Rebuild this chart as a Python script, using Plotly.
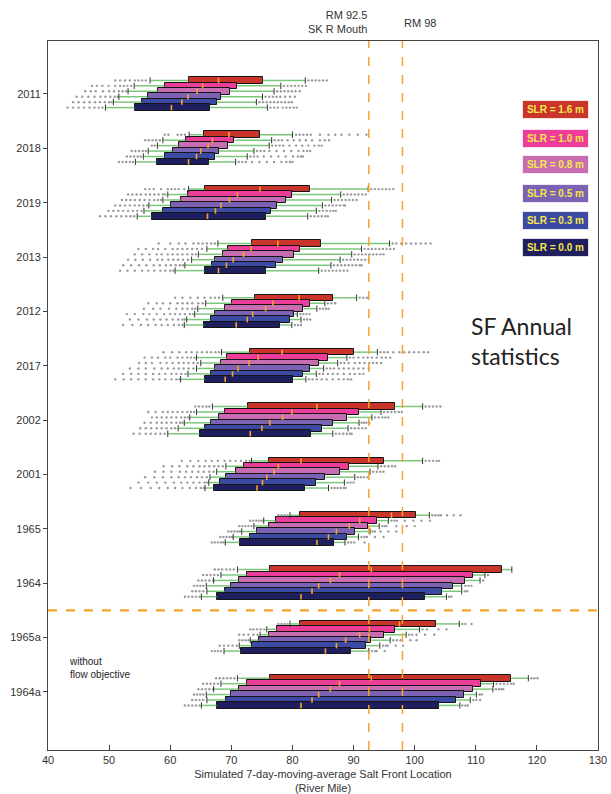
import plotly.graph_objects as go

# ---------------- data ----------------
years = ["2011", "2018", "2019", "2013", "2012", "2017", "2002", "2001",
         "1965", "1964", "1965a", "1964a"]
slr_labels = ["SLR = 1.6 m", "SLR = 1.0 m", "SLR = 0.8 m",
              "SLR = 0.5 m", "SLR = 0.3 m", "SLR = 0.0 m"]
x_ticks = [40, 50, 60, 70, 80, 90, 100, 110, 120, 130]
ref_lines = [92.5, 98]

# rows: SLR 1.6, 1.0, 0.8, 0.5, 0.3, 0.0 ; columns follow `years`
whisker_low = [
    [56.7, 63.1, 63.0, 67.8, 68.6, 68.4, 66.9, 73.3, 79.6, 71.0, 79.6, 71.0],
    [54.1, 58.8, 59.6, 66.0, 65.8, 64.3, 64.3, 69.1, 75.3, 68.3, 75.8, 68.3],
    [53.1, 57.9, 58.8, 64.6, 64.5, 65.0, 63.2, 67.6, 73.7, 67.1, 74.7, 67.1],
    [51.6, 56.4, 56.5, 63.5, 64.0, 64.3, 62.3, 66.5, 71.7, 65.9, 73.1, 65.9],
    [50.7, 55.6, 55.7, 62.4, 62.7, 62.9, 61.3, 66.3, 70.3, 66.0, 71.3, 66.0],
    [49.4, 54.3, 54.6, 60.8, 62.3, 61.7, 59.6, 65.7, 69.0, 65.1, 68.8, 65.1],
]
q1 = [
    [63.0, 65.5, 65.7, 73.4, 73.9, 73.1, 72.8, 76.2, 81.2, 76.3, 81.3, 76.3],
    [59.1, 62.6, 62.9, 69.5, 70.1, 69.3, 68.9, 72.0, 77.3, 72.6, 77.5, 72.6],
    [58.0, 61.5, 61.8, 68.7, 68.9, 68.3, 67.9, 70.7, 76.1, 71.3, 76.2, 71.3],
    [56.3, 60.4, 60.1, 67.4, 67.4, 67.4, 66.6, 69.2, 74.2, 69.9, 74.6, 69.9],
    [55.4, 59.1, 58.8, 66.8, 66.6, 66.6, 65.7, 68.1, 73.1, 69.0, 73.3, 69.1],
    [54.2, 57.8, 57.0, 65.7, 65.6, 65.7, 64.8, 67.1, 71.4, 67.7, 71.5, 67.7],
]
median = [
    [67.9, 69.6, 74.7, 77.6, 81.1, 78.3, 84.0, 81.4, 96.2, 92.9, 97.5, 92.9],
    [65.3, 66.9, 71.0, 73.2, 76.8, 74.4, 79.9, 77.7, 91.0, 87.7, 92.6, 87.7],
    [64.4, 66.2, 69.7, 72.0, 75.6, 72.9, 78.4, 77.0, 89.3, 86.2, 91.0, 86.2],
    [62.9, 65.0, 68.3, 70.3, 73.5, 71.1, 76.3, 75.8, 87.2, 84.3, 88.7, 84.3],
    [61.9, 64.3, 67.4, 69.2, 72.6, 70.2, 75.0, 75.1, 85.9, 83.2, 87.2, 83.2],
    [60.2, 63.0, 66.1, 67.9, 70.8, 69.0, 73.1, 74.2, 84.0, 81.4, 85.4, 81.4],
]
q3 = [
    [75.1, 74.7, 82.9, 84.6, 86.6, 90.1, 96.7, 95.0, 100.2, 114.3, 103.5, 115.7],
    [70.9, 70.5, 79.9, 81.2, 82.8, 85.8, 90.9, 89.3, 93.9, 109.5, 96.8, 110.8],
    [69.7, 69.5, 78.9, 80.3, 81.8, 84.3, 89.0, 87.8, 92.4, 108.2, 95.0, 109.5],
    [68.3, 68.0, 77.5, 78.4, 80.3, 82.9, 86.6, 85.4, 90.2, 106.2, 92.9, 108.1],
    [67.6, 67.4, 76.5, 77.3, 79.6, 81.7, 84.9, 83.9, 88.9, 104.4, 92.0, 106.8],
    [66.5, 66.3, 75.6, 75.6, 78.0, 80.1, 83.0, 82.1, 86.8, 101.7, 89.5, 103.9],
]
whisker_high = [
    [82.1, 80.0, 92.4, 95.9, 90.5, 93.9, 101.3, 101.3, 102.4, 115.9, 107.3, 118.6],
    [78.1, 76.6, 87.9, 91.3, 85.3, 88.9, 94.5, 94.0, 95.7, 111.5, 100.8, 112.9],
    [77.0, 76.2, 86.4, 89.7, 84.0, 87.4, 93.0, 92.7, 94.2, 110.7, 98.6, 112.8],
    [75.1, 73.7, 84.9, 87.8, 80.8, 85.1, 90.9, 90.2, 92.7, 107.7, 96.0, 110.1],
    [74.1, 72.6, 83.9, 86.3, 81.4, 83.9, 89.1, 88.5, 90.8, 107.7, 94.3, 109.1],
    [75.9, 70.7, 82.5, 84.3, 79.9, 82.2, 86.6, 85.9, 88.6, 105.2, 92.5, 107.4],
]

# outliers: [SLR][year] -> list of values
outliers_slr16 = [
    [51.0, 51.8, 52.6, 53.4, 54.2, 54.8, 55.4, 56.0, 82.6, 83.2, 83.8, 84.4, 85.0, 85.6],
    [59.1, 59.7, 61.2, 61.8, 62.4, 80.6, 81.2, 81.8, 82.4, 83.0, 84.5, 85.9, 87.0, 88.0, 89.3, 90.7, 92.1],
    [55.9, 56.6, 57.3, 58.5, 59.6, 60.2, 60.8, 61.4, 62.3, 92.9, 93.5, 94.1, 94.7, 95.3, 95.9, 96.5],
    [58.1, 60.0, 61.4, 62.5, 63.8, 64.6, 65.3, 66.0, 66.7, 67.3, 96.4, 97.0, 97.8, 98.6, 99.4, 100.2, 101.0, 101.8, 102.6],
    [60.8, 62.0, 63.3, 64.5, 65.6, 66.6, 67.3, 68.0, 91.0, 91.6, 92.2],
    [58.9, 60.3, 61.5, 62.6, 63.5, 64.4, 65.2, 66.0, 66.7, 67.4, 68.0, 94.4, 95.0, 95.6, 96.5, 97.5, 98.3, 99.1, 99.9, 100.7, 101.5, 102.2],
    [64.1, 64.7, 65.3, 65.9, 66.4, 101.8, 102.4, 103.0, 103.6, 104.2],
    [61.9, 63.3, 64.6, 65.8, 66.8, 67.8, 68.9, 69.8, 70.7, 71.6, 72.4, 73.0, 101.8, 102.4, 103.0, 103.6, 104.0],
    [77.7, 78.2, 78.7, 79.2, 102.9, 103.4, 103.9, 104.3, 105.3, 106.4, 107.5],
    [67.3, 67.9, 68.5, 69.2, 69.8, 70.4],
    [77.7, 78.2, 78.7, 79.2, 107.8, 108.3, 109.3],
    [67.5, 68.1, 68.7, 69.3, 69.9, 70.5, 119.1, 119.6, 120.1],
]
outliers_slr10 = [
    [47.2, 48.0, 48.9, 49.9, 51.0, 51.8, 52.4, 53.0, 53.6, 78.6, 79.2, 79.8, 80.4, 81.0, 81.6, 82.2],
    [55.9, 56.5, 57.1, 57.7, 58.3, 77.1, 77.7, 78.3, 79.2, 80.2, 81.2, 82.2, 83.2, 84.5, 85.3, 86.0],
    [53.1, 53.8, 54.5, 55.2, 56.0, 56.7, 57.4, 58.1, 58.8, 59.2, 88.4, 89.0, 89.6, 90.2, 90.8, 91.4, 92.0],
    [54.8, 56.0, 57.2, 58.0, 59.2, 60.4, 61.2, 62.0, 62.8, 63.6, 64.4, 65.2, 91.8, 92.4, 93.0, 93.6, 94.2, 94.8, 95.4, 96.0, 96.6],
    [56.4, 57.8, 58.8, 60.0, 61.2, 62.0, 62.8, 63.6, 64.6, 65.3, 85.8, 86.4, 87.0],
    [55.8, 57.0, 58.0, 59.2, 60.0, 61.2, 62.0, 62.8, 63.4, 64.0, 89.4, 90.0, 90.8, 91.6, 92.3, 93.0, 93.8, 94.6, 95.3, 96.0],
    [56.4, 57.6, 58.8, 59.6, 60.4, 61.2, 62.0, 62.8, 63.4, 63.9, 95.0, 95.6, 96.2, 96.8, 97.4, 97.9],
    [58.9, 60.3, 61.5, 62.8, 63.8, 64.8, 65.6, 66.4, 67.2, 67.9, 68.6, 94.5, 95.1, 95.7, 96.3, 96.8],
    [73.1, 73.6, 74.1, 74.6, 75.0, 96.2, 96.7, 97.1, 98.4, 99.8, 101.1, 102.5],
    [65.4, 66.0, 66.6, 67.2, 67.8, 112.0],
    [73.1, 73.6, 74.2, 74.8, 75.4, 101.3, 102.0, 103.9, 105.2],
    [65.4, 66.0, 66.6, 67.2, 67.8, 113.4, 114.0, 114.6, 115.2, 115.8, 116.2],
]
outliers_slr08 = [
    [46.1, 47.0, 47.8, 49.0, 50.0, 50.8, 51.6, 52.2, 52.8, 77.5, 78.1, 78.7, 79.3, 79.9, 80.5, 81.2],
    [57.0, 57.5, 76.7, 77.3, 77.9, 78.5, 79.5, 80.6, 81.6, 82.6, 83.6, 84.3, 84.8],
    [52.1, 52.8, 53.5, 54.2, 55.0, 55.8, 56.6, 57.4, 58.0, 58.5, 86.9, 87.5, 88.1, 88.7, 89.3, 89.9, 90.5],
    [54.2, 55.4, 56.6, 57.8, 58.6, 59.6, 60.4, 61.2, 62.0, 62.8, 63.6, 64.2, 90.2, 90.8, 91.4, 92.0, 92.6, 93.2, 93.8, 94.4, 94.9],
    [55.7, 57.2, 58.4, 59.8, 61.0, 62.0, 62.8, 63.6, 64.1, 84.5, 85.0, 85.5, 85.9],
    [54.9, 56.0, 57.0, 58.4, 59.4, 60.4, 61.4, 62.2, 63.0, 63.8, 64.5, 87.9, 88.5, 89.2, 90.2, 91.0, 91.8, 92.6, 93.2, 93.8, 94.5],
    [57.0, 57.8, 58.6, 59.4, 60.2, 61.0, 61.8, 62.4, 62.9, 93.5, 94.1, 94.7, 95.2, 95.7],
    [57.5, 58.9, 60.2, 61.6, 62.6, 63.6, 64.6, 65.5, 66.4, 67.1, 93.2, 93.8, 94.4, 94.9],
    [71.3, 71.8, 72.3, 72.8, 73.3, 94.7, 95.1, 95.4, 97.0, 98.7, 100.0],
    [64.6, 65.2, 65.8, 66.4, 67.0, 111.2],
    [71.3, 72.0, 72.8, 73.6, 74.3, 99.1, 99.6, 100.3, 101.7, 103.2],
    [64.6, 65.2, 65.8, 66.4, 67.0, 113.3, 113.8, 114.2, 114.5],
]
outliers_slr05 = [
    [44.7, 45.6, 46.6, 47.6, 48.6, 49.4, 50.2, 50.9, 51.4, 75.6, 76.2, 76.8, 77.4, 78.0, 78.8, 79.6, 80.4],
    [53.7, 54.3, 54.9, 55.5, 56.0, 74.2, 74.8, 75.4, 76.2, 77.4, 78.6, 79.8, 81.0, 81.8, 82.4, 82.9],
    [51.0, 51.8, 52.6, 53.4, 54.2, 54.9, 55.6, 56.2, 85.4, 86.0, 86.6, 87.2, 87.8, 88.4, 88.6],
    [53.1, 54.3, 55.5, 56.7, 57.9, 58.7, 59.7, 60.5, 61.3, 62.1, 62.9, 88.3, 88.9, 89.5, 90.1, 90.7, 91.3, 91.9, 92.5],
    [52.9, 54.2, 55.6, 56.6, 57.8, 59.0, 60.0, 60.8, 61.6, 62.4, 63.2, 63.7, 81.3, 81.8, 82.3, 82.8],
    [53.4, 54.8, 56.0, 57.4, 58.6, 59.6, 60.6, 61.4, 62.2, 63.0, 63.8, 85.6, 86.2, 86.8, 87.6, 88.4, 89.2, 90.0, 90.8, 91.6, 92.5],
    [55.8, 56.8, 57.8, 58.6, 59.4, 60.2, 61.0, 61.6, 62.0, 91.3, 91.7, 92.1, 92.6],
    [55.9, 57.4, 58.8, 60.2, 61.4, 62.4, 63.4, 64.4, 65.2, 66.0, 90.7, 91.2, 91.7, 92.3],
    [69.5, 70.0, 70.5, 71.0, 71.4, 93.1, 93.5, 94.4, 95.7, 97.0],
    [63.9, 64.4, 64.9, 65.4, 108.3, 108.8, 109.3],
    [71.3, 71.8, 72.3, 72.8, 96.5, 97.1, 97.7, 99.3, 100.3],
    [63.9, 64.4, 64.9, 65.4, 110.6, 111.0],
]
outliers_slr03 = [
    [44.1, 45.0, 45.9, 46.8, 47.7, 48.5, 49.3, 50.0, 50.4, 74.6, 75.2, 75.8, 76.4, 77.0, 77.6, 78.2, 78.8, 79.4, 79.9],
    [52.9, 53.5, 54.1, 54.7, 55.2, 73.1, 73.7, 74.3, 75.3, 76.5, 77.7, 78.9, 80.1, 80.9, 81.4, 81.7],
    [49.9, 50.7, 51.5, 52.3, 53.1, 53.9, 54.6, 55.3, 84.4, 85.0, 85.6, 86.2, 86.7, 87.1],
    [52.3, 53.6, 54.9, 56.1, 57.3, 58.3, 59.3, 60.1, 60.9, 61.6, 62.1, 86.8, 87.4, 88.0, 88.6, 89.2, 89.8, 90.4, 91.0, 91.3],
    [53.4, 54.8, 56.2, 57.3, 58.4, 59.4, 60.4, 61.3, 62.0, 62.4, 81.9, 82.4, 82.9],
    [52.3, 53.6, 54.8, 56.0, 57.2, 58.2, 59.2, 60.2, 61.0, 61.8, 62.5, 84.4, 85.0, 85.8, 86.6, 87.4, 88.4, 89.4, 90.2, 91.0, 91.6],
    [55.1, 56.0, 56.9, 57.8, 58.6, 59.4, 60.2, 60.8, 89.6, 90.2, 90.8, 91.4, 92.0],
    [54.8, 56.4, 57.8, 59.2, 60.6, 61.8, 62.8, 63.8, 64.8, 65.6, 66.0, 89.0, 89.5, 90.0],
    [68.2, 68.7, 69.2, 69.7, 70.1, 91.3, 91.8, 92.2, 93.5, 94.9],
    [63.6, 64.2, 64.8, 65.4, 108.2, 108.6],
    [68.1, 68.8, 69.5, 70.2, 70.9, 94.8, 95.3, 95.6, 96.9, 98.1],
    [63.6, 64.2, 64.8, 65.4, 109.6, 110.1, 110.7],
]
outliers_slr00 = [
    [43.2, 44.1, 45.0, 45.9, 46.8, 47.6, 48.3, 48.9, 76.4, 77.0, 77.6, 78.4, 79.0, 79.6, 80.2, 80.7],
    [51.6, 52.2, 52.8, 53.4, 53.9, 71.2, 71.8, 72.4, 73.4, 74.6, 75.8, 77.0, 78.2, 79.0, 79.6, 80.0],
    [48.5, 49.4, 50.3, 51.2, 52.0, 52.8, 53.5, 54.1, 83.0, 83.6, 84.2, 84.8, 85.4, 85.8],
    [51.8, 53.0, 54.2, 55.4, 56.4, 57.4, 58.4, 59.2, 60.0, 60.5, 84.8, 85.4, 86.0, 86.6, 87.2, 87.8, 88.4, 89.0],
    [52.3, 53.8, 55.2, 56.4, 57.6, 58.6, 59.6, 60.6, 61.4, 62.0, 80.4, 80.9, 81.4],
    [51.0, 52.4, 53.6, 54.8, 56.0, 57.2, 58.2, 59.2, 60.2, 61.0, 61.5, 82.7, 83.3, 84.0, 84.8, 85.6, 86.6, 87.6, 88.4, 89.1, 89.6],
    [54.0, 55.0, 56.0, 56.8, 57.6, 58.4, 59.1, 87.1, 87.7, 88.3, 88.9, 89.4, 89.7],
    [53.5, 55.2, 56.8, 58.2, 59.6, 60.8, 62.0, 63.2, 64.2, 65.0, 65.5, 86.4, 86.9, 87.4, 87.9, 88.4, 88.7],
    [66.8, 67.3, 67.8, 68.3, 68.7, 89.1, 89.6, 90.1, 91.8],
    [62.4, 63.0, 63.6, 64.2, 64.8, 105.6, 106.0],
    [66.8, 67.3, 67.8, 68.3, 93.0, 93.5, 93.8, 95.1],
    [62.4, 63.0, 63.6, 64.2, 64.8, 107.8, 108.3, 108.7],
]
outliers = [outliers_slr16, outliers_slr10, outliers_slr08,
            outliers_slr05, outliers_slr03, outliers_slr00]

# ---------------- styling ----------------
box_colors = ["#c9342b", "#ec3d98", "#c96db2", "#7b62b3", "#3d4aa3", "#1f1f5f"]
offsets = [-0.25, -0.15, -0.05, 0.05, 0.15, 0.25]
box_h = 0.12
orange = "#f6a42c"
FONT = "Liberation Sans, Arial, sans-serif"

fig = go.Figure()
pos = list(range(len(years)))

# boxes (upper series drawn first so lower series sit on top)
for s in range(6):
    ys = [p + offsets[s] for p in pos]
    fig.add_trace(go.Bar(
        orientation="h", y=ys, base=q1[s],
        x=[b - a for a, b in zip(q1[s], q3[s])],
        width=box_h,
        marker=dict(color=box_colors[s], line=dict(color="#151515", width=1)),
        showlegend=False, hoverinfo="skip"))

# outliers
ox, oy = [], []
for s in range(6):
    for i, p in enumerate(pos):
        for v in outliers[s][i]:
            ox.append(v)
            oy.append(p + offsets[s])
fig.add_trace(go.Scatter(x=ox, y=oy, mode="markers",
                         marker=dict(color="#9a9a9a", size=2.4, line=dict(width=0)),
                         showlegend=False, hoverinfo="skip"))

# whiskers
wx, wy, cx, cy = [], [], [], []
for s in range(6):
    for i, p in enumerate(pos):
        y = p + offsets[s]
        wx += [whisker_low[s][i], q1[s][i], None, q3[s][i], whisker_high[s][i], None]
        wy += [y, y, None, y, y, None]
        cx += [whisker_low[s][i], whisker_high[s][i]]
        cy += [y, y]
fig.add_trace(go.Scatter(x=wx, y=wy, mode="lines",
                         line=dict(color="rgba(70,175,70,0.7)", width=1.5),
                         showlegend=False, hoverinfo="skip"))
fig.add_trace(go.Scatter(x=cx, y=cy, mode="markers",
                         marker=dict(symbol="line-ns", size=4.5,
                                     line=dict(color="#333", width=1)),
                         showlegend=False, hoverinfo="skip"))

# medians
mx, my = [], []
for s in range(6):
    for i, p in enumerate(pos):
        y = p + offsets[s]
        mx += [median[s][i], median[s][i], None]
        my += [y - box_h / 2 + 0.01, y + box_h / 2 - 0.01, None]
fig.add_trace(go.Scatter(x=mx, y=my, mode="lines",
                         line=dict(color=orange, width=1.6),
                         showlegend=False, hoverinfo="skip"))

# reference lines
for xv in ref_lines:
    fig.add_shape(type="line", xref="x", yref="paper", x0=xv, x1=xv, y0=0, y1=1,
                  line=dict(color=orange, width=1.5, dash="dash"))
fig.add_shape(type="line", xref="paper", yref="y", x0=0, x1=1, y0=9.5, y1=9.5,
              line=dict(color=orange, width=2.2, dash="dash"))

# annotations
fig.add_annotation(x=ref_lines[0], y=1, xref="x", yref="paper", yshift=4,
                   text="RM 92.5<br>SK R Mouth", showarrow=False,
                   xanchor="right", yanchor="bottom", align="right",
                   font=dict(size=11, color="#333", family=FONT))
fig.add_annotation(x=ref_lines[1], y=1, xref="x", yref="paper", yshift=10,
                   text="RM 98", showarrow=False,
                   xanchor="left", yanchor="bottom", align="left",
                   font=dict(size=11, color="#333", family=FONT))

leg_y = [110, 138, 165, 193, 220, 247.5]
for s in range(6):
    fig.add_annotation(x=0.9236, y=(750 - leg_y[s]) / 709, xref="paper", yref="paper",
                       text="<b>%s</b>" % slr_labels[s], showarrow=False,
                       xanchor="center", yanchor="middle",
                       width=63, height=15, borderpad=1, borderwidth=1,
                       bgcolor=box_colors[s], bordercolor="rgba(255,255,255,0.7)",
                       font=dict(size=10, color="#f3e84a", family=FONT))

fig.add_annotation(x=(469 - 48) / 550, y=(750 - 341) / 709, xref="paper", yref="paper",
                   text="SF Annual<br>statistics", showarrow=False,
                   xanchor="left", yanchor="middle", align="left",
                   font=dict(size=23, color="#222", family="Lato, Open Sans, sans-serif"))
fig.add_annotation(x=(67 - 48) / 550, y=(750 - 668) / 709, xref="paper", yref="paper",
                   text="without<br>flow objective", showarrow=False,
                   xanchor="left", yanchor="middle", align="left",
                   font=dict(size=10, color="#222", family=FONT))

fig.update_layout(
    width=611, height=794,
    margin=dict(l=48, r=13, t=41, b=44, autoexpand=False),
    paper_bgcolor="white", plot_bgcolor="white",
    barmode="overlay", bargap=0,
    font=dict(family=FONT, size=11, color="#333"),
    showlegend=False,
    xaxis=dict(range=[40, 130], tickvals=x_ticks, showgrid=False, zeroline=False,
               showline=True, mirror=True, linecolor="#444", linewidth=1,
               ticks="inside", ticklen=5, tickcolor="#444", automargin=False,
               title=dict(text="Simulated 7-day-moving-average Salt Front Location<br>(River Mile)",
                          font=dict(size=11, color="#333"), standoff=8)),
    yaxis=dict(range=[12.07, -0.975], tickvals=pos, ticktext=years, showgrid=False,
               zeroline=False, showline=True, mirror=True, linecolor="#444", linewidth=1,
               ticks="outside", ticklen=4, tickcolor="#444", automargin=False),
)

fig.write_html("out.html", config={"displayModeBar": False},
               post_script="document.body.style.margin='0px';document.body.style.overflow='hidden';")
